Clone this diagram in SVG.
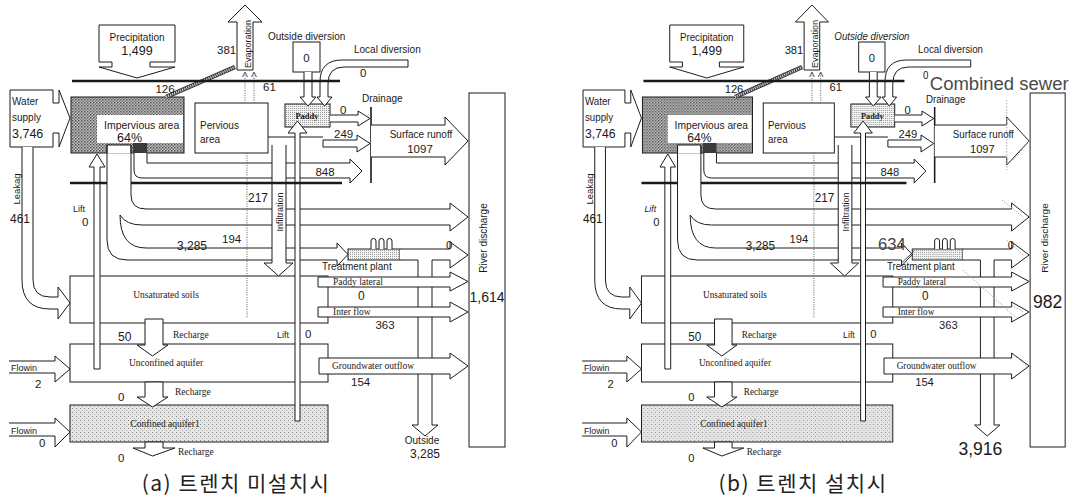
<svg xmlns="http://www.w3.org/2000/svg" width="1091" height="504" viewBox="0 0 1091 504">
<defs>
<style>
.k{fill:none;stroke:#1a1a1a;stroke-width:1}
.w{fill:#fff;stroke:#1a1a1a;stroke-width:1}
.gl{fill:none;stroke:#1a1a1a;stroke-width:2.6}
.t{font-family:"Liberation Sans",Arial,sans-serif;font-size:10px;fill:#1a1a1a}
.n{font-family:"Liberation Sans",Arial,sans-serif;font-size:11.5px;fill:#1a1a1a}
.s{font-family:"Liberation Serif","Times New Roman",serif;font-size:9.5px;fill:#1a1a1a}
.m{text-anchor:middle}
.i{font-style:italic}
.dt{fill:none;stroke:#666;stroke-width:1.1;stroke-dasharray:1 1.4}
.cap{font-family:"Noto Sans CJK KR","Noto Sans CJK SC",sans-serif;font-size:21px;letter-spacing:1.5px;fill:#222}
.gr{fill:none;stroke:#aaa;stroke-width:1;stroke-dasharray:1.5 1.5}
</style>
<pattern id="pd" width="3" height="3" patternUnits="userSpaceOnUse"><rect width="3" height="3" fill="#bdbdbd"/><rect width="1.5" height="1.5" fill="#555"/><rect x="1.5" y="1.5" width="1.5" height="1.5" fill="#7a7a7a"/></pattern>
<pattern id="pl" width="2" height="2" patternUnits="userSpaceOnUse"><rect width="2" height="2" fill="#f4f4f4"/><rect width="1" height="1" fill="#9a9a9a"/></pattern>
<pattern id="pc" width="4" height="4" patternUnits="userSpaceOnUse"><rect width="4" height="4" fill="#e6e6e6"/><rect width="1" height="1" fill="#888"/><rect x="2" y="2" width="1" height="1" fill="#aaa"/></pattern>
</defs>
<rect width="1091" height="504" fill="#fff"/>

<g id="panel-a">
<g id="nodes-a">
 <g id="precipitation-a"><path class="w" d="M99,25 H175 V62 H150 V67 H175 L137,78 L99,67 H112 V62 H99 Z"/><text class="t m" x="137" y="41">Precipitation</text><text class="n m" x="137" y="55" style="font-size:12.5px">1,499</text></g>
 <g id="water-supply-a"><path class="w" d="M10,90 H53 V103 H59 V90 L70,118 L59,147 V133 H53 V147 H10 Z"/><text class="t" x="12" y="105">Water</text><text class="t" x="12" y="121">supply</text><text class="n" x="12" y="138" style="font-size:12.5px">3,746</text></g>
 <g id="impervious-a"><rect x="71" y="97" width="113" height="56" fill="url(#pd)" stroke="#1a1a1a"/><rect x="97" y="115" width="86" height="28" fill="#fff"/><rect x="133" y="143" width="14" height="10" fill="#3a3a3a"/><rect x="107" y="145" width="24" height="8.5" fill="#fff"/><path class="k" d="M107,153 V145 H131 V153"/><text class="t" x="104" y="129" style="font-size:10.5px">Impervious area</text><text class="n" x="117" y="142" style="font-size:12.5px">64%</text></g>
 <g id="pervious-a"><rect class="w" x="195" y="103" width="73" height="50"/><text class="t" x="200" y="129">Pervious</text><text class="t" x="200" y="143">area</text></g>
 <g id="outside-diversion-a"><rect class="w" x="293" y="42" width="27" height="30"/><text class="n m" x="306.5" y="62">0</text><text class="t" x="268" y="40">Outside diversion</text></g>
 <g id="paddy-a"><rect x="285" y="104" width="45" height="23" fill="url(#pl)" stroke="#1a1a1a"/><text class="s m" x="307" y="119" style="font-size:8.5px;font-weight:bold">Paddy</text></g>
 <g id="treatment-plant-a"><rect x="348" y="249" width="52" height="11" fill="url(#pl)" stroke="#1a1a1a"/><path class="w" d="M371,249 V241 A2.5,2.5 0 0 1 376,241 V249 M379,249 V241 A2.5,2.5 0 0 1 384,241 V249 M387,249 V241 A2.5,2.5 0 0 1 392,241 V249"/><text class="t" x="322" y="270">Treatment plant</text></g>
 <g id="unsaturated-a"><rect class="w" x="70" y="276" width="258" height="47"/><text class="s m" x="166" y="298">Unsaturated soils</text></g>
 <g id="unconfined-a"><rect class="w" x="70" y="344" width="258" height="38"/><text class="s m" x="166" y="366">Unconfined aquifer</text></g>
 <g id="confined-a"><rect x="70" y="405" width="258" height="37" fill="url(#pc)" stroke="#1a1a1a"/><text class="s m" x="165" y="427">Confined aquifer1</text></g>
 <g id="river-a"><rect class="w" x="469" y="93" width="36" height="354"/><text class="t m" transform="translate(487,238) rotate(-90)">River discharge</text><text class="n m" x="487" y="302" style="font-size:14px">1,614</text></g>
</g>
<g id="connectors-a">
 <path class="k" d="M107,145 V240 Q107,260 127,260 H337 V266 L348,254.5 L337,243 V248 H146 Q120,248 120,215"/>
 <path class="k" d="M120,215 Q126,225 142,225 H450 V231 L468,217 L450,203 V209 H146 Q131,209 131,195 V145"/>
 <path class="w" d="M134,153 V170 Q134,178 142,178 H350 V183 L362,171 L350,159 V163 H147 V153"/>
 <path class="w" d="M237,70 V22 H228 L245,5 L262,22 H253 V70 Z"/>
 <text class="t m" transform="translate(251,44) rotate(-90)" style="font-size:9px">Evaporation</text>
 <text class="n" x="217" y="54">381</text>
 <path class="dt" d="M245,103 V73 M254,103 V73"/>
 <path class="k" style="stroke:#555" d="M242.5,77 L245,72 L247.5,77 M251.5,77 L254,72 L256.5,77"/>
 <line x1="166" y1="97" x2="235" y2="67" stroke="#333" stroke-width="4.5"/>
 <line x1="166" y1="97" x2="235" y2="67" stroke="#ccc" stroke-width="2.6" stroke-dasharray="1.2 1"/>
 <path class="w" d="M304,72 V97 H300 L308,106 L316,97 H312 V72"/>
 <path class="w" d="M408,60 H342 Q320,60 320,82 V97 H317 L324.5,106 L332,97 H328 V84 Q328,67 344,67 H408 Z"/>
 <text class="t" x="354" y="53">Local diversion</text>
 <text class="n" x="360" y="77">0</text>
 <path class="w" d="M330,115 H358 V111 L370,118.5 L358,126 V122 H330"/>
 <text class="n" x="340" y="114">0</text>
 <path class="k" style="stroke-width:1.6" d="M371,107 V183"/>
 <text class="t" x="362" y="102">Drainage</text>
 <path class="k" d="M268,137 H323"/>
 <path class="w" d="M323,140 H357 V135 L370,143.5 L357,152 V147 H323 Z"/>
 <text class="n" x="334" y="138">249</text>
 <path class="w" d="M371,125 H445 V117 L468,141 L445,165 V157 H371"/>
 <text class="t m" x="421" y="138">Surface runoff</text>
 <text class="n m" x="420" y="153">1097</text>
 <text class="n m" x="325" y="176">848</text>
 <text class="n" x="248" y="202" style="font-size:12px">217</text>
 <text class="n" x="222" y="243">194</text>
 <text class="n" x="177" y="250" style="font-size:12px">3,285</text>
 <path class="w" d="M400,249 H450 V242 L468,255 L450,268 V260 H432 V425 H438 L425,436 L412,425 H418 V260 H400"/>
 <text class="n" x="446" y="249">0</text>
 <text class="t m" x="422" y="444">Outside</text>
 <text class="n m" x="425" y="458" style="font-size:12px">3,285</text>
 <path class="w" d="M94,369 V167 H89 L97,154 L105,167 H100 V369 Z"/>
 <text class="t" x="73" y="212" style="font-size:9px">Lift</text>
 <text class="n" x="82" y="226">0</text>
 <path class="w" d="M22,147 V280 Q22,309 50,309 H58 V319 L70,303 L58,287 V297 H50 Q33,297 33,280 V147"/>
 <text class="t m" transform="translate(20,189) rotate(-90)" style="font-size:9.5px">Leakag</text>
 <text class="n" x="10" y="223" style="font-size:12px">461</text>
 <path class="w" d="M145,319 V345 H137 L152.5,356 L168,345 H163 V319 Z"/>
 <text class="n" x="118" y="341" style="font-size:12px">50</text>
 <text class="s" x="173" y="338">Recharge</text>
 <path class="w" d="M145,382 V397 H137 L152.5,407 L168,397 H163 V382 Z"/>
 <text class="n" x="118" y="401">0</text>
 <text class="s" x="175" y="395">Recharge</text>
 <path class="w" d="M145,442 V448 H133 L152.5,456 L175,448 H163 V442 Z"/>
 <text class="n" x="118" y="462">0</text>
 <text class="s" x="178" y="455">Recharge</text>
 <path class="w" d="M9,361 H55 V356 L70,369 L55,382 V373 H9"/>
 <text class="t" x="11" y="371" style="font-size:9px">Flowin</text>
 <text class="n" x="35" y="388">2</text>
 <path class="w" d="M9,423 H55 V418 L70,432 L55,447 V436 H9"/>
 <text class="t" x="11" y="434" style="font-size:9px">Flowin</text>
 <text class="n" x="39" y="447">0</text>
 <path class="w" d="M318,277 H450 V272 L468,281.5 L450,291 V287 H318 Z"/>
 <text class="s" x="333" y="285">Paddy lateral</text>
 <text class="n" x="358" y="300" style="font-size:12px">0</text>
 <path class="w" d="M318,307 H450 V302 L468,312 L450,322 V317 H318 Z"/>
 <text class="s" x="333" y="315">Inter flow</text>
 <text class="n m" x="385" y="329">363</text>
 <path class="w" d="M319,358 H450 V353 L468,366 L450,379 V374 H319 Z"/>
 <text class="s" x="332" y="369">Groundwater outflow</text>
 <text class="n" x="351" y="386">154</text>
 <path class="w" d="M272,145 V263 H264 L278.5,276 L293,263 H286 V145"/>
 <text class="t m" transform="translate(283,212) rotate(-90)" style="font-size:9px">Infiltration</text>
 <path class="w" d="M295,421 V133 H288 L297.5,121 L307,133 H300 V421 Z"/>
 <text class="t" x="277" y="338" style="font-size:9px">Lift</text>
 <text class="n" x="305" y="338">0</text>
 <path class="dt" d="M247,153 V318"/>
 <path class="gl" d="M72,81 H340"/>
 <path class="gl" d="M70,183 H107 M131,183 H342"/>
 <text class="n m" x="165" y="93">126</text>
 <text class="n" x="263" y="91">61</text>
</g>
<text class="cap m" x="236" y="491">(a) 트렌치 미설치시</text>
</g>

<g id="panel-b">
<g transform="translate(573.3,0) scale(0.974,1)">
<g id="nodes-b">
 <g id="precipitation-b"><path class="w" d="M99,25 H175 V62 H150 V67 H175 L137,78 L99,67 H112 V62 H99 Z"/><text class="t m" x="137" y="41">Precipitation</text><text class="n m" x="137" y="55" style="font-size:12.5px">1,499</text></g>
 <g id="water-supply-b"><path class="w" d="M10,90 H53 V103 H59 V90 L70,118 L59,147 V133 H53 V147 H10 Z"/><text class="t" x="12" y="105">Water</text><text class="t" x="12" y="121">supply</text><text class="n" x="12" y="138" style="font-size:12.5px">3,746</text></g>
 <g id="impervious-b"><rect x="71" y="97" width="113" height="56" fill="url(#pd)" stroke="#1a1a1a"/><rect x="97" y="115" width="86" height="28" fill="#fff"/><rect x="133" y="143" width="14" height="10" fill="#3a3a3a"/><rect x="107" y="145" width="24" height="8.5" fill="#fff"/><path class="k" d="M107,153 V145 H131 V153"/><text class="t" x="104" y="129" style="font-size:10.5px">Impervious area</text><text class="n" x="117" y="142" style="font-size:12.5px">64%</text></g>
 <g id="pervious-b"><rect class="w" x="195" y="103" width="73" height="50"/><text class="t" x="200" y="129">Pervious</text><text class="t" x="200" y="143">area</text></g>
 <g id="outside-diversion-b"><rect class="w" x="293" y="42" width="27" height="30"/><text class="n m" x="306.5" y="62">0</text><text class="t i" x="268" y="40">Outside diversion</text></g>
 <g id="paddy-b"><rect x="285" y="104" width="45" height="23" fill="url(#pl)" stroke="#1a1a1a"/><text class="s m" x="307" y="119" style="font-size:8.5px;font-weight:bold">Paddy</text></g>
 <g id="treatment-plant-b"><rect x="348" y="249" width="52" height="11" fill="url(#pl)" stroke="#1a1a1a"/><path class="w" d="M371,249 V241 A2.5,2.5 0 0 1 376,241 V249 M379,249 V241 A2.5,2.5 0 0 1 384,241 V249 M387,249 V241 A2.5,2.5 0 0 1 392,241 V249"/><text class="t" x="322" y="270">Treatment plant</text></g>
 <g id="unsaturated-b"><rect class="w" x="70" y="276" width="258" height="47"/><text class="s m" x="166" y="298">Unsaturated soils</text></g>
 <g id="unconfined-b"><rect class="w" x="70" y="344" width="258" height="38"/><text class="s m" x="166" y="366">Unconfined aquifer</text></g>
 <g id="confined-b"><rect x="70" y="405" width="258" height="37" fill="url(#pc)" stroke="#1a1a1a"/><text class="s m" x="165" y="427">Confined aquifer1</text></g>
 <g id="river-b"><rect class="w" x="469" y="93" width="36" height="354"/><text class="t m" transform="translate(487,238) rotate(-90)">River discharge</text><text class="n m" x="487" y="308" style="font-size:18px">982</text></g>
</g>
<g id="connectors-b">
 <path class="k" d="M107,145 V240 Q107,260 127,260 H337 V266 L348,254.5 L337,243 V248 H146 Q120,248 120,215"/>
 <path class="k" d="M120,215 Q126,225 142,225 H450 V231 L468,217 L450,203 V209 H146 Q131,209 131,195 V145"/>
 <path class="w" d="M134,153 V170 Q134,178 142,178 H350 V183 L362,171 L350,159 V163 H147 V153"/>
 <path class="w" d="M237,70 V22 H228 L245,5 L262,22 H253 V70 Z"/>
 <text class="t m" transform="translate(251,44) rotate(-90)" style="font-size:9px">Evaporation</text>
 <text class="n" x="217" y="54">381</text>
 <path class="dt" d="M245,103 V73 M254,103 V73"/>
 <path class="k" style="stroke:#555" d="M242.5,77 L245,72 L247.5,77 M251.5,77 L254,72 L256.5,77"/>
 <line x1="166" y1="97" x2="235" y2="67" stroke="#333" stroke-width="4.5"/>
 <line x1="166" y1="97" x2="235" y2="67" stroke="#ccc" stroke-width="2.6" stroke-dasharray="1.2 1"/>
 <path class="w" d="M304,72 V97 H300 L308,106 L316,97 H312 V72"/>
 <path class="w" d="M408,60 H342 Q320,60 320,82 V97 H317 L324.5,106 L332,97 H328 V84 Q328,67 344,67 H408 Z"/>
 <text class="t" x="354" y="53">Local diversion</text>
 <text class="n" x="359" y="79" style="font-size:10px">0</text>
 <text class="t" x="366" y="90" style="font-size:19px;fill:#4a4a4a">Combined sewer</text>
 <path class="w" d="M330,115 H358 V111 L370,118.5 L358,126 V122 H330"/>
 <text class="n" x="340" y="114">0</text>
 <path class="k" style="stroke-width:1.6" d="M371,107 V183"/>
 <text class="t" x="362" y="103">Drainage</text>
 <path class="k" d="M268,137 H323"/>
 <path class="w" d="M323,140 H357 V135 L370,143.5 L357,152 V147 H323 Z"/>
 <text class="n" x="334" y="138">249</text>
 <path class="w" d="M371,125 H445 V117 L468,141 L445,165 V157 H371"/>
 <text class="t m" x="421" y="138">Surface runoff</text>
 <text class="n m" x="420" y="153">1097</text>
 <text class="n m" x="325" y="176">848</text>
 <text class="n" x="248" y="202" style="font-size:12px">217</text>
 <text class="n" x="222" y="243">194</text>
 <text class="n" x="177" y="250" style="font-size:12px">3,285</text>
 <text class="n m" x="327" y="250" style="font-size:17px;fill:#444">634</text>
 <path class="k" style="stroke:#444" d="M337,263 L350,251"/>
 <path class="w" d="M400,249 H450 V242 L468,255 L450,268 V260 H432 V425 H438 L425,436 L412,425 H418 V260 H400"/>
 <text class="n" x="446" y="249">0</text>
 <text class="n m" x="418" y="455" style="font-size:18px">3,916</text>
 <path class="w" d="M94,369 V167 H89 L97,154 L105,167 H100 V369 Z"/>
 <text class="t i" x="73" y="212" style="font-size:9px">Lift</text>
 <text class="n" x="82" y="226">0</text>
 <path class="w" d="M22,147 V280 Q22,309 50,309 H58 V319 L70,303 L58,287 V297 H50 Q33,297 33,280 V147"/>
 <text class="t m" transform="translate(20,189) rotate(-90)" style="font-size:9.5px">Leakag</text>
 <text class="n" x="10" y="223" style="font-size:12px">461</text>
 <path class="w" d="M145,319 V345 H137 L152.5,356 L168,345 H163 V319 Z"/>
 <text class="n" x="118" y="341" style="font-size:12px">50</text>
 <text class="s" x="173" y="338">Recharge</text>
 <path class="w" d="M145,382 V397 H137 L152.5,407 L168,397 H163 V382 Z"/>
 <text class="n" x="118" y="401">0</text>
 <text class="s" x="175" y="395">Recharge</text>
 <path class="w" d="M145,442 V448 H133 L152.5,456 L175,448 H163 V442 Z"/>
 <text class="n" x="118" y="462">0</text>
 <text class="s" x="178" y="455">Recharge</text>
 <path class="w" d="M9,361 H55 V356 L70,369 L55,382 V373 H9"/>
 <text class="t" x="11" y="371" style="font-size:9px">Flowin</text>
 <text class="n" x="35" y="388">2</text>
 <path class="w" d="M9,423 H55 V418 L70,432 L55,447 V436 H9"/>
 <text class="t" x="11" y="434" style="font-size:9px">Flowin</text>
 <text class="n" x="39" y="447">0</text>
 <path class="w" d="M318,277 H450 V272 L468,281.5 L450,291 V287 H318 Z"/>
 <text class="s" x="333" y="285">Paddy lateral</text>
 <text class="n" x="358" y="300" style="font-size:12px">0</text>
 <path class="w" d="M318,307 H450 V302 L468,312 L450,322 V317 H318 Z"/>
 <text class="s" x="333" y="315">Inter flow</text>
 <text class="n m" x="385" y="329">363</text>
 <path class="w" d="M319,358 H450 V353 L468,366 L450,379 V374 H319 Z"/>
 <text class="s" x="332" y="369">Groundwater outflow</text>
 <text class="n" x="351" y="386">154</text>
 <path class="w" d="M272,145 V263 H264 L278.5,276 L293,263 H286 V145"/>
 <text class="t m" transform="translate(283,212) rotate(-90)" style="font-size:9px">Infiltration</text>
 <path class="w" d="M295,421 V133 H288 L297.5,121 L307,133 H300 V421 Z"/>
 <text class="t" x="277" y="338" style="font-size:9px">Lift</text>
 <text class="n" x="305" y="338">0</text>
 <path class="dt" d="M247,153 V318"/>
 <path class="gl" d="M72,81 H340"/>
 <path class="gl" d="M70,183 H107 M131,183 H342"/>
 <text class="n m" x="165" y="93">126</text>
 <text class="n" x="263" y="91">61</text>
 <path class="gr" d="M445,100 V170 M452,160 L468,141 M440,200 L462,217 M445,240 L462,255 M400,270 L455,318 M450,305 L462,312 M452,355 L466,366"/>
</g>
</g>
<text class="cap m" x="803" y="491">(b) 트렌치 설치시</text>
</g>
</svg>
